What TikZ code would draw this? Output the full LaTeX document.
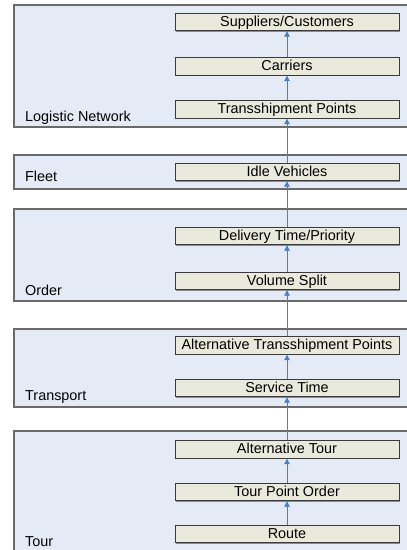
\documentclass[tikz,border=0pt]{standalone}
\usepackage{fontspec}
\setmainfont{Liberation Sans}
\usetikzlibrary{arrows.meta,shadows}
\definecolor{grpfill}{HTML}{E5EBF6}
\definecolor{grpdraw}{HTML}{6A6A6A}
\definecolor{itemfill}{HTML}{E9E9DC}
\definecolor{itemdraw}{HTML}{3A3A3A}
\definecolor{arrowblue}{HTML}{4A7EC7}
\tikzset{
  grp/.style={fill=grpfill, draw=grpdraw, line width=1.2pt},
  grplabel/.style={anchor=base west, inner sep=0pt, font=\fontsize{14.4}{16}\selectfont},
  item/.style={draw=itemdraw, fill=itemfill, line width=0.9pt, minimum width=224pt, minimum height=17.5pt,
    inner sep=0pt, text height=10pt, text depth=2pt, font=\fontsize{14.4}{16}\selectfont,
    drop shadow={shadow xshift=1.2pt, shadow yshift=-1.2pt, fill=black!55, opacity=0.8}},
  flow/.style={draw=arrowblue, line width=0.9pt, -{Triangle[width=5.5pt,length=5.5pt]}}
}
\begin{document}
\begin{tikzpicture}[x=1pt,y=-1pt]
\useasboundingbox (0,0) rectangle (407,550);
% groups
\path[grp] (14,5) rectangle (420,127);
\path[grp] (14,155) rectangle (420,189);
\path[grp] (14,209) rectangle (420,301);
\path[grp] (14,329) rectangle (420,407);
\path[grp] (14,431) rectangle (420,560);
\node[grplabel] (lnl) at (25,121.5) {Logistic Network};
\node[grplabel] (fll) at (25,181.5) {Fleet};
\node[grplabel] (orl) at (25,295) {Order};
\node[grplabel] (trl) at (25,400) {Transport};
\node[grplabel] (tol) at (25,546) {Tour};
% items
\node[item] (sc)  at (287,22)    {Suppliers/Customers};
\node[item] (car) at (287,66.5)  {Carriers};
\node[item] (tp)  at (287,109.5) {Transshipment Points};
\node[item] (iv)  at (287,172)   {Idle Vehicles};
\node[item] (dtp) at (287,236)   {Delivery Time/Priority};
\node[item] (vs)  at (287,281)   {Volume Split};
\node[item] (atp) at (287,345.5) {Alternative Transshipment Points};
\node[item] (st)  at (287,388)   {Service Time};
\node[item] (at)  at (287,449.5) {Alternative Tour};
\node[item] (tpo) at (287,492)   {Tour Point Order};
\node[item] (rt)  at (287,534)   {Route};
% arrows
\draw[flow] (rt) -- (tpo);
\draw[flow] (tpo) -- (at);
\draw[flow] (at) -- (st);
\draw[flow] (st) -- (atp);
\draw[flow] (atp) -- (vs);
\draw[flow] (vs) -- (dtp);
\draw[flow] (dtp) -- (iv);
\draw[flow] (iv) -- (tp);
\draw[flow] (tp) -- (car);
\draw[flow] (car) -- (sc);
\end{tikzpicture}
\end{document}
